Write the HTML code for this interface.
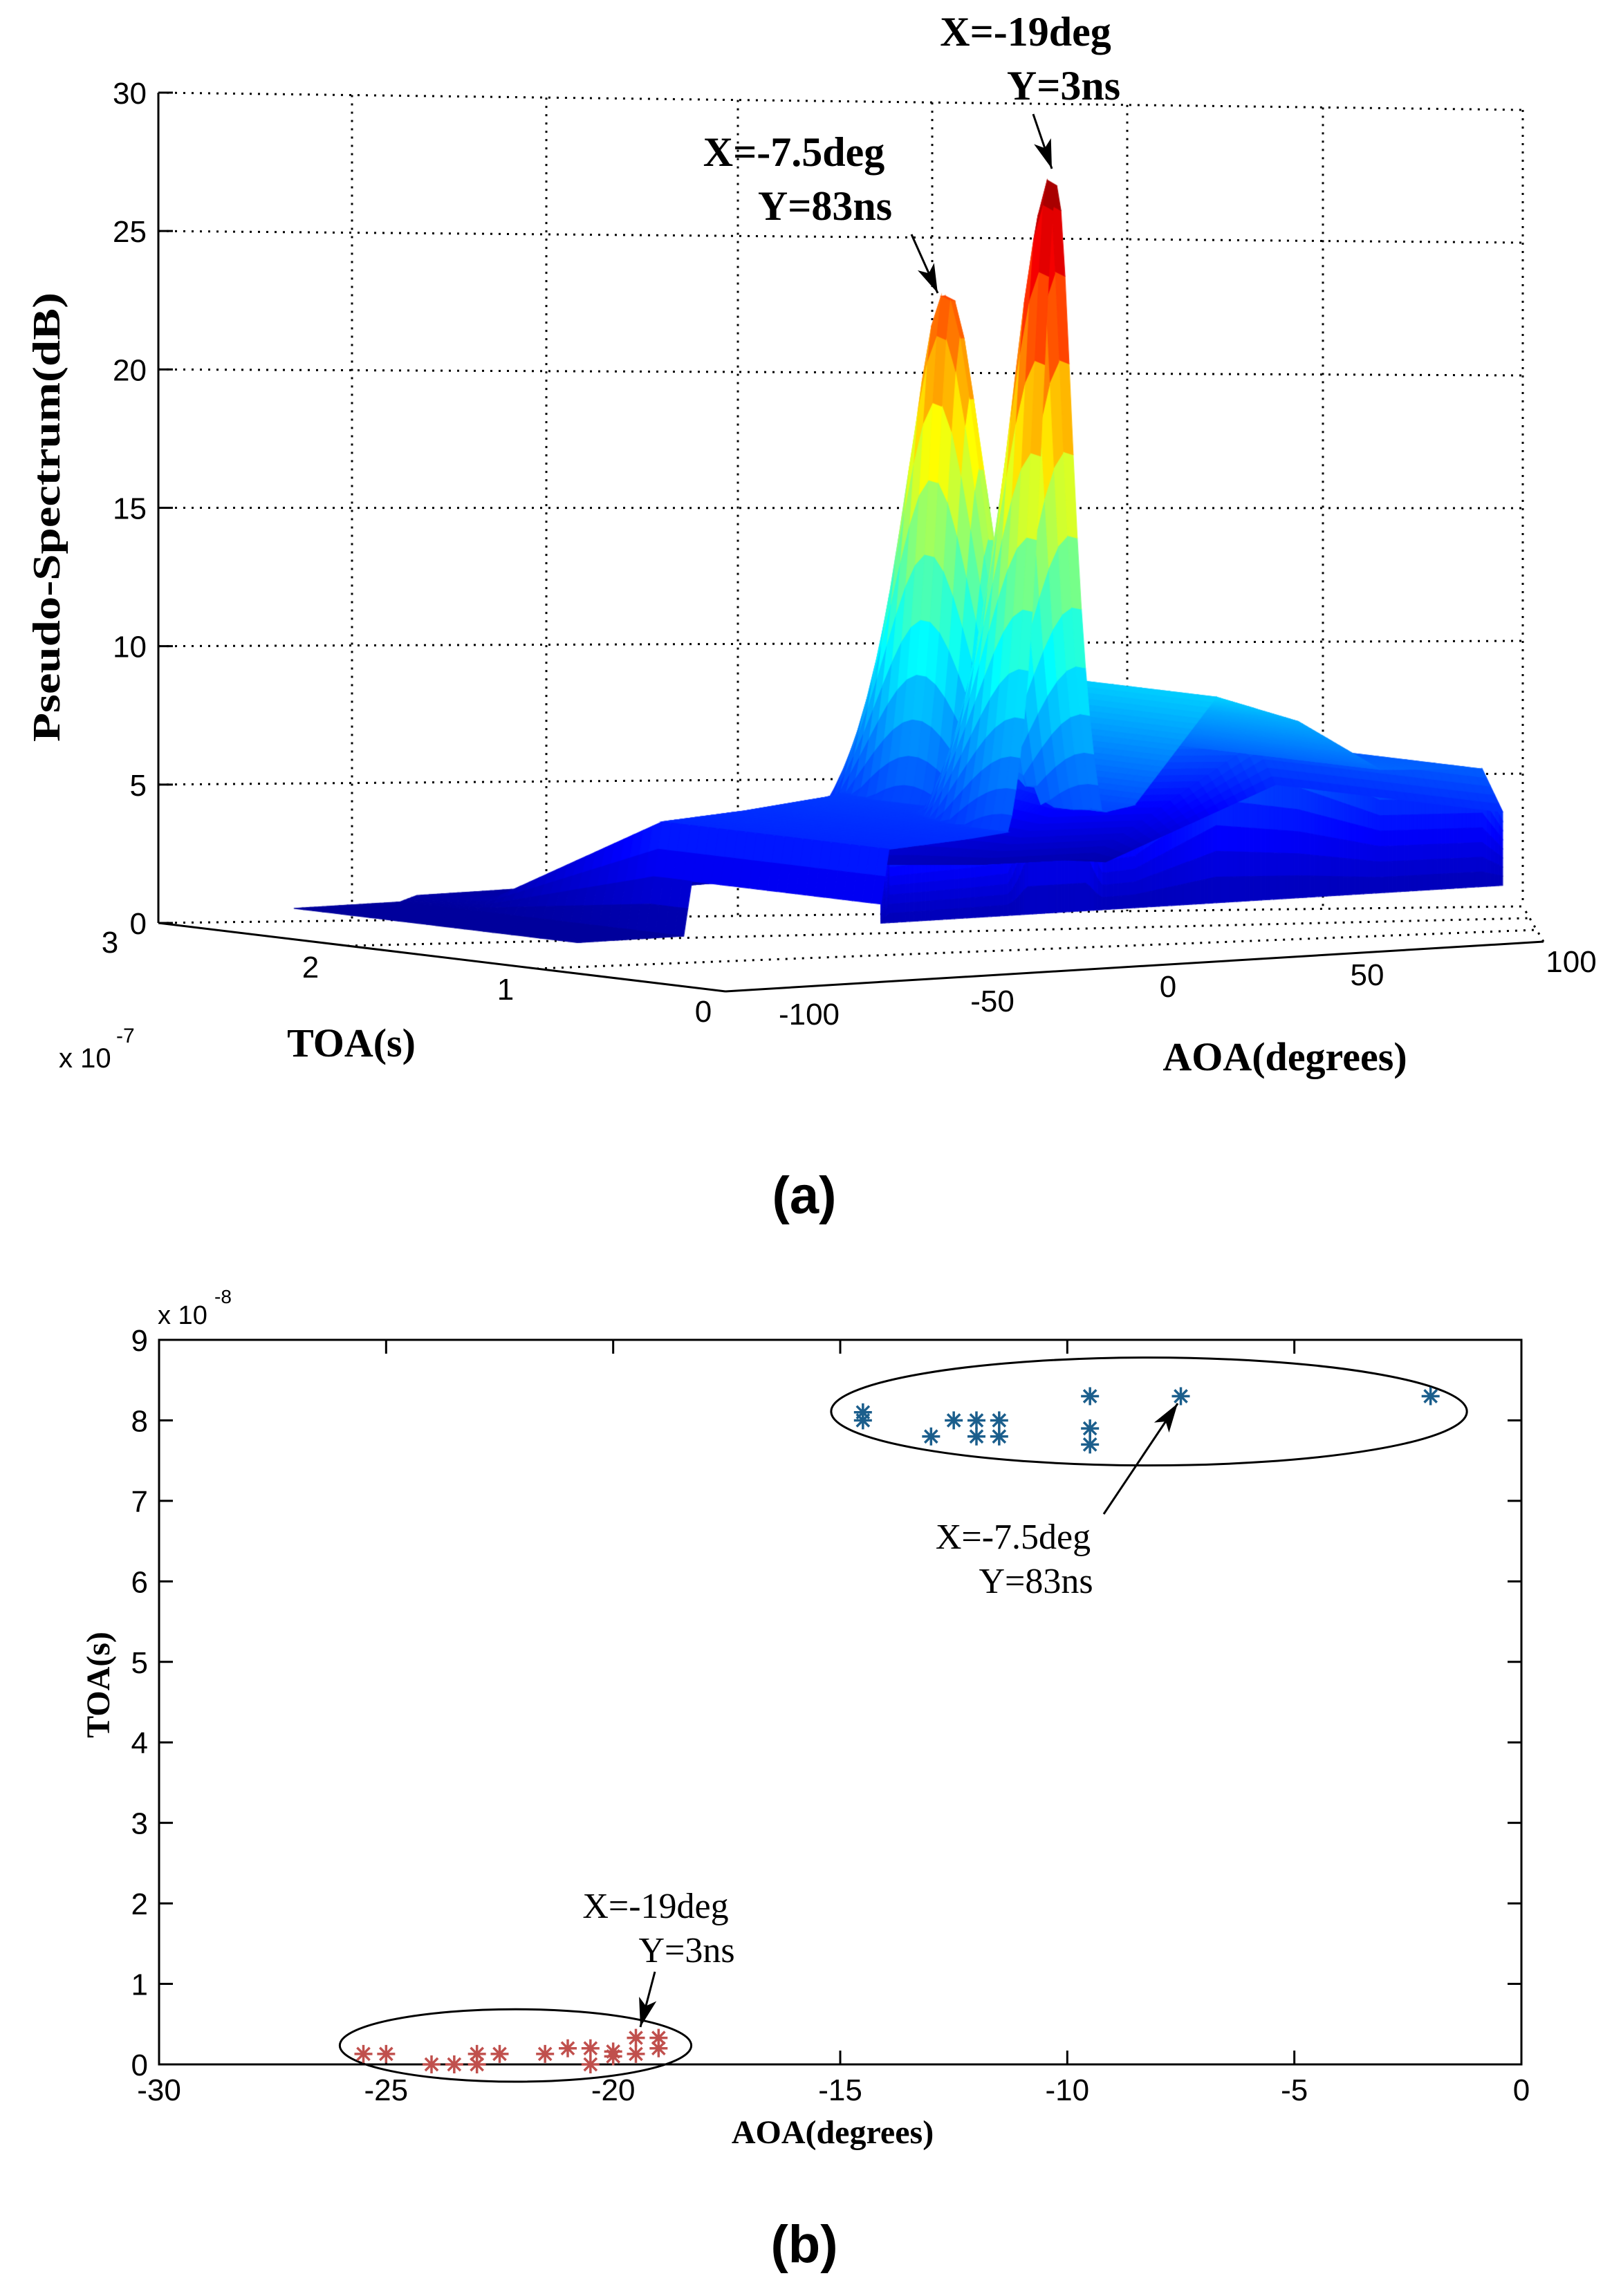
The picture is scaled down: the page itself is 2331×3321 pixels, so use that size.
<!DOCTYPE html>
<html><head><meta charset="utf-8"><style>
html,body{margin:0;padding:0;background:#fff;}
#wrap{position:relative;width:2331px;height:3321px;overflow:hidden;background:#fff;}
svg,canvas{position:absolute;left:0;top:0;}
.tk{font-family:"Liberation Sans",sans-serif;font-size:44px;fill:#000;}
.ser{font-family:"Liberation Serif",serif;fill:#000;}
</style></head><body>
<div id="wrap">
<svg id="bg" width="2331" height="1600"></svg>
<canvas id="surf" width="2331" height="1600"></canvas>
<svg id="fg" width="2331" height="3321"></svg>
</div>
<script>
// ---------- data: 3D pseudo-spectrum ----------
const peakAoa = [-19, -7.5];
const peakToaNs = [3, 83];
const peakDb = [27, 22.5];
const peakWidthDeg = [5.5, 5.5];
const peakWidthNs = [30, 30];
const baseAoa = [-90, -64, -60, -40, -20, 0, 20, 40, 60, 85, 90];
const baseDb  = [0.8, 0.8, 4.5, 4.7, 5.0, 5.5, 9.0, 8.0, 6.2, 6.0, 4.5];
const toaNs   = [0, 120, 210, 250];
const toaGain = [1, 1, 0.1, 0.05];
const skirtDb = 2;
const zTicks = [0,5,10,15,20,25,30];
const toaTicks = ['3','2','1','0'];
const aoaTicks = ['-100','-50','0','50','100'];
// ---------- data: scatter ----------
const blueAoa = [-14.5,-14.5,-13,-12.5,-12,-12,-11.5,-11.5,-9.5,-9.5,-9.5,-7.5,-2];
const blueToa = [8.1,8.0,7.8,8.0,8.0,7.8,8.0,7.8,8.3,7.9,7.7,8.3,8.3];
const redAoa = [-25.5,-25,-24,-23.5,-23,-23,-22.5,-21.5,-21,-20.5,-20.5,-20,-20,-19.5,-19.5,-19,-19];
const redToa = [0.13,0.13,0,0,0.13,0,0.13,0.13,0.2,0.2,0,0.16,0.1,0.33,0.13,0.33,0.2];
const xTickVals = [-30,-25,-20,-15,-10,-5,0];
const yTickVals = [0,1,2,3,4,5,6,7,8,9];

const NS='http://www.w3.org/2000/svg';
function mk(parent,tag,attrs,text){const e=document.createElementNS(NS,tag);for(const k in attrs)e.setAttribute(k,attrs[k]);if(text!==undefined)e.textContent=text;parent.appendChild(e);return e;}
const bg=document.getElementById('bg'), fg=document.getElementById('fg');

// ---- 3D box / grid ----
const dot={stroke:'#000','stroke-width':3,'stroke-dasharray':'3 9',fill:'none'};
function lerp(a,b,f){return a+(b-a)*f;}
zTicks.forEach((v,i)=>{
  const f=v/30;
  const yl=lerp(1335,134,f), yr=lerp(1311,159,f);
  const l=mk(bg,'line',Object.assign({x1:229,y1:yl,x2:2202,y2:yr},dot));
   
  const t=mk(bg,'line',{x1:229,y1:yl,x2:250,y2:yl,stroke:'#000','stroke-width':3});
   
  const tx=mk(bg,'text',{x:212,y:yl+16,'text-anchor':'end',class:'tk'},String(v));
   
});
[509,790,1067,1348,1630,1913,2202].forEach(x=>{
  const f=(x-229)/(2202-229);
  const l=mk(bg,'line',Object.assign({x1:x,y1:lerp(134,159,f),x2:x,y2:lerp(1335,1311,f)},dot));
   
});
[[502,1368,2212,1328],[776,1401,2222,1345],[2232,1362,2202,1311]].forEach(c=>{
  const l=mk(bg,'line',Object.assign({x1:c[0],y1:c[1],x2:c[2],y2:c[3]},dot));
   
});
[['z-axis',229,134,229,1335],['toa-axis',229,1335,1049,1434],['aoa-axis',1049,1434,2232,1362]].forEach(c=>{
  const l=mk(bg,'line',{x1:c[1],y1:c[2],x2:c[3],y2:c[4],stroke:'#000','stroke-width':3});
   
});

// ---- surface ----
function interp(xs,ys,x){if(x<=xs[0])return ys[0];for(let i=1;i<xs.length;i++){if(x<=xs[i]){const f=(x-xs[i-1])/(xs[i]-xs[i-1]);return ys[i-1]+(ys[i]-ys[i-1])*f;}}return ys[ys.length-1];}
function zAt(a,t){
  let z=0.8+(interp(baseAoa,baseDb,a)-0.8)*interp(toaNs,toaGain,t);
  for(let k=0;k<peakAoa.length;k++){
    const da=(a-peakAoa[k])/peakWidthDeg[k], dt=(t-peakToaNs[k])/peakWidthNs[k];
    z=Math.max(z,peakDb[k]/(1+da*da+dt*dt));
  }
  return z;
}
function proj(a,t,z){return [1049+(a+100)*5.915-2.733*t, 1434-0.36*(a+100)-0.33*t-z*42.5];}
function jet(v){v=Math.max(0,Math.min(1,v));
  const r=Math.max(0,Math.min(1,Math.min(4*v-1.5,-4*v+4.5)));
  const g=Math.max(0,Math.min(1,Math.min(4*v-0.5,-4*v+3.5)));
  const b=Math.max(0,Math.min(1,Math.min(4*v+0.5,-4*v+2.5)));
  return 'rgb('+Math.round(r*255)+','+Math.round(g*255)+','+Math.round(b*255)+')';}
const ctx=document.getElementById('surf').getContext('2d');
function quad(p,c){ctx.fillStyle=c; ctx.strokeStyle=c; ctx.lineWidth=1.2;
  ctx.beginPath(); ctx.moveTo(p[0][0],p[0][1]); for(let i=1;i<p.length;i++)ctx.lineTo(p[i][0],p[i][1]); ctx.closePath(); ctx.fill(); ctx.stroke();}
const dA=1, dT=5;
// front skirt (drawn first, sits beneath surface)
for(let a=90-dA;a>=-62;a-=dA){
  const z0=Math.min(zAt(a,0),9.5),z1=Math.min(zAt(a+dA,0),9.5);
  const steps=8;
  for(let s=0;s<steps;s++){
    const f0=s/steps,f1=(s+1)/steps;
    const za0=lerp(z0,skirtDb,f0),za1=lerp(z0,skirtDb,f1),zb0=lerp(z1,skirtDb,f0),zb1=lerp(z1,skirtDb,f1);
    quad([proj(a,0,za0),proj(a+dA,0,zb0),proj(a+dA,0,zb1),proj(a,0,za1)],jet((za0+za1)/2/27.5*(1-0.3*f0)));
  }
}
for(let t=250-dT;t>=0;t-=dT){
  for(let a=90-dA;a>=-90;a-=dA){
    if(a< -62 && t<100) continue;
    const z00=zAt(a,t),z10=zAt(a+dA,t),z11=zAt(a+dA,t+dT),z01=zAt(a,t+dT);
    quad([proj(a,t,z00),proj(a+dA,t,z10),proj(a+dA,t+dT,z11),proj(a,t+dT,z01)],jet((z00+z10+z11+z01)/4/27.5));
  }
}

// ---- 3D labels ----
const toaLabPos=[[159,1378],[449,1414],[731,1446],[1017,1478]];
toaTicks.forEach((s,i)=>{const e=mk(fg,'text',{x:toaLabPos[i][0],y:toaLabPos[i][1],'text-anchor':'middle',class:'tk'},s);
   });
const aoaLabPos=[[1170,1482],[1435,1463],[1689,1442],[1977,1425],[2272,1406]];
aoaTicks.forEach((s,i)=>{const e=mk(fg,'text',{x:aoaLabPos[i][0],y:aoaLabPos[i][1],'text-anchor':'middle',class:'tk'},s);
   });
function T(x,y,s,size,name,opts){const a=Object.assign({x:x,y:y,'text-anchor':'middle',class:'ser',style:'font-size:'+size+'px'},opts||{});const e=mk(fg,'text',a,s);return e;}
const ex=mk(fg,'text',{x:85,y:1544,class:'tk',style:'font-size:40px'},'x 10');
const ex2=mk(fg,'text',{x:168,y:1508,class:'tk',style:'font-size:30px'},'-7');
T(508,1528,'TOA(s)',58,'toa-axis-title',{'font-weight':'bold'});
T(1858,1548,'AOA(degrees)',58,'aoa-axis-title',{'font-weight':'bold'});
T(0,0,'Pseudo-Spectrum(dB)',56,'z-axis-title',{'font-weight':'bold',transform:'translate(86,748) rotate(-90)',textLength:650,lengthAdjust:'spacingAndGlyphs'});
T(1483,66,'X=-19deg',60,'peak1-annotation-x',{'font-weight':'bold'});
T(1538,144,'Y=3ns',60,'peak1-annotation-y',{'font-weight':'bold'});
T(1148,240,'X=-7.5deg',60,'peak2-annotation-x',{'font-weight':'bold'});
T(1193,318,'Y=83ns',60,'peak2-annotation-y',{'font-weight':'bold'});
function arrow(x1,y1,x2,y2,name){
  const g=mk(fg,'g',{});
  mk(g,'line',{x1:x1,y1:y1,x2:x2,y2:y2,stroke:'#000','stroke-width':3});
  const ang=Math.atan2(y2-y1,x2-x1),L=42,W=13;
  const bx=x2-L*Math.cos(ang),by=y2-L*Math.sin(ang);
  const px=-Math.sin(ang)*W,py=Math.cos(ang)*W;
  mk(g,'polygon',{points:`${x2},${y2} ${bx+px},${by+py} ${bx+L*0.25*Math.cos(ang)},${by+L*0.25*Math.sin(ang)} ${bx-px},${by-py}`,fill:'#000'});
}
arrow(1494,165,1521,244,'peak1-arrow');
arrow(1318,339,1356,424,'peak2-arrow');
T(1163,1755,'(a)',76,'panel-a-label',{'font-weight':'bold',class:'tk'});

// ---- scatter plot (b) ----
const L0=230,R0=2200,T0=1938,B0=2986;
function X(a){return L0+(a+30)/30*(R0-L0);}
function Y(v){return B0-v/9*(B0-T0);}
const box=mk(fg,'rect',{x:L0,y:T0,width:R0-L0,height:B0-T0,fill:'none',stroke:'#000','stroke-width':3});

xTickVals.forEach(v=>{const x=X(v);
  const g=mk(fg,'g',{});
  mk(g,'line',{x1:x,y1:B0,x2:x,y2:B0-20,stroke:'#000','stroke-width':3});
  mk(g,'line',{x1:x,y1:T0,x2:x,y2:T0+20,stroke:'#000','stroke-width':3});
  const e=mk(fg,'text',{x:x,y:B0+52,'text-anchor':'middle',class:'tk'},String(v));});
yTickVals.forEach(v=>{const y=Y(v);
  const g=mk(fg,'g',{});
  mk(g,'line',{x1:L0,y1:y,x2:L0+20,y2:y,stroke:'#000','stroke-width':3});
  mk(g,'line',{x1:R0,y1:y,x2:R0-20,y2:y,stroke:'#000','stroke-width':3});
  const e=mk(fg,'text',{x:L0-16,y:y+16,'text-anchor':'end',class:'tk'},String(v));});
const e8=mk(fg,'text',{x:228,y:1915,class:'tk',style:'font-size:38px'},'x 10');
const e9=mk(fg,'text',{x:310,y:1885,class:'tk',style:'font-size:28px'},'-8');
T(1204,3100,'AOA(degrees)',48,'x-axis-title',{'font-weight':'bold'});
T(0,0,'TOA(s)',48,'y-axis-title',{'font-weight':'bold',transform:'translate(158,2437) rotate(-90)'});
function ell(ca,cv,ra,rv,name){const e=mk(fg,'ellipse',{cx:X(ca),cy:Y(cv),rx:ra/30*(R0-L0),ry:rv/9*(B0-T0),fill:'none',stroke:'#000','stroke-width':3});}
ell(-8.2,8.11,7.0,0.67,'cluster-ellipse-blue');
ell(-22.15,0.235,3.87,0.45,'cluster-ellipse-red');
function star(a,v,col,name){const x=X(a),y=Y(v),s=13;
  const g=mk(fg,'g',{stroke:col,'stroke-width':3.5});
  mk(g,'line',{x1:x-s,y1:y,x2:x+s,y2:y});mk(g,'line',{x1:x,y1:y-s,x2:x,y2:y+s});
  mk(g,'line',{x1:x-s*0.7,y1:y-s*0.7,x2:x+s*0.7,y2:y+s*0.7});mk(g,'line',{x1:x-s*0.7,y1:y+s*0.7,x2:x+s*0.7,y2:y-s*0.7});}
blueAoa.forEach((a,i)=>star(a,blueToa[i],'#1b5e8c','point-blue'));
redAoa.forEach((a,i)=>star(a,redToa[i],'#c0504d','point-red'));
T(1465,2240,'X=-7.5deg',52,'cluster1-annotation-x');
T(1498,2304,'Y=83ns',52,'cluster1-annotation-y');
T(948,2774,'X=-19deg',52,'cluster2-annotation-x');
T(993,2838,'Y=3ns',52,'cluster2-annotation-y');
arrow(1596,2190,1703,2030,'cluster1-arrow');
arrow(947,2852,926,2932,'cluster2-arrow');
T(1163,3272,'(b)',76,'panel-b-label',{'font-weight':'bold',class:'tk'});
</script>
</body></html>
